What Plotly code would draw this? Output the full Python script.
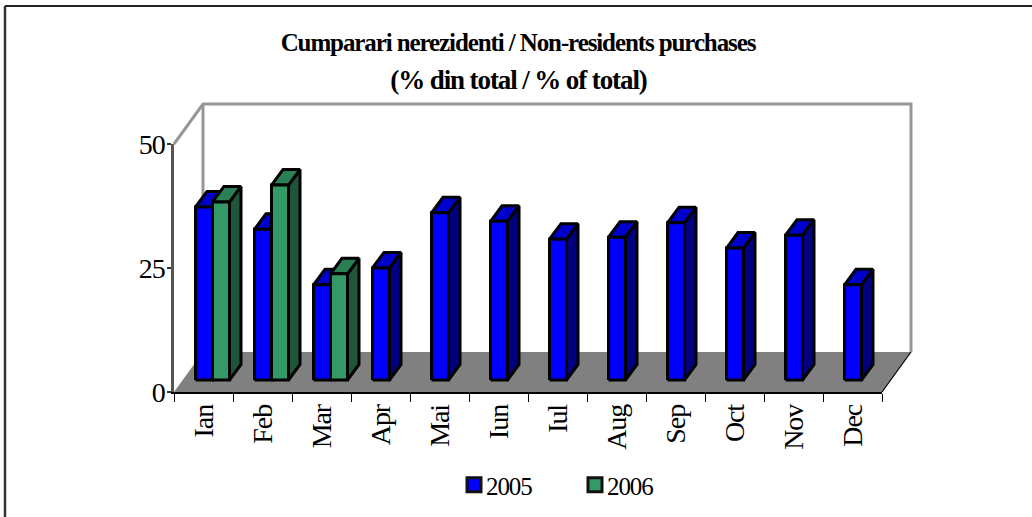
import plotly.graph_objects as go

months = ["Ian", "Feb", "Mar", "Apr", "Mai", "Iun", "Iul", "Aug", "Sep", "Oct", "Nov", "Dec"]
v2005 = [34.9, 30.4, 19.2, 22.6, 33.7, 32.0, 28.4, 28.8, 31.7, 26.6, 29.2, 19.2]
v2006 = [35.9, 39.3, 21.4]
y_ticks = [0, 25, 50]
title_1 = "Cumparari nerezidenti / Non-residents purchases"
title_2 = "(% din total / % of total)"

W, H = 1032, 517
X0, X1 = 174, 882
Y0, Y50 = 392, 144
UX = (X1 - X0) / 12
UY = (Y0 - Y50) / 50

WALL_DX, WALL_DY = 29 / UX, 40 / UY
BAR_W = 17 / UX
BAR_LEFT = 21.5 / UX
BAR_BASE = 12 / UY
BAR_DX, BAR_DY = 11.5 / UX, 15.5 / UY
PAD = 6  # pixels of slack round the scene so that edge strokes are not clipped

SER = [
    ("2005", v2005, 0, "#0000FF", "#0000CC", "#000080"),
    ("2006", v2006, 1, "#339966", "#2A7F55", "#1F5538"),
]

fig = go.Figure()


def poly(xs, ys, fill, color="black", width=3):
    fig.add_trace(go.Scatter(x=xs, y=ys, mode="lines", fill="toself", fillcolor=fill,
                             line=dict(color=color, width=width), xaxis="x2", yaxis="y2",
                             showlegend=False, hoverinfo="skip"))


# legend entries (these also carry the visible main axes)
for name, vals, slot, front, top, side in SER:
    fig.add_trace(go.Scatter(x=[None], y=[None], mode="markers", name=name,
                             marker=dict(symbol="square", size=14, color=front,
                                         line=dict(color="#111111", width=3))))

# floor and walls
poly([0, 12, 12 + WALL_DX, WALL_DX, 0], [0, 0, WALL_DY, WALL_DY, 0], "#808080", "#808080", 0)
for xs, ys, c, w in [
    ([12, 12 + WALL_DX], [0, WALL_DY], "black", 1.2),
    ([0, WALL_DX, 12 + WALL_DX, 12 + WALL_DX], [50, 50 + WALL_DY, 50 + WALL_DY, WALL_DY], "#969696", 3),
    ([WALL_DX, WALL_DX], [50 + WALL_DY, WALL_DY], "#969696", 3),
]:
    fig.add_trace(go.Scatter(x=xs, y=ys, mode="lines", line=dict(color=c, width=w), xaxis="x2", yaxis="y2",
                             showlegend=False, hoverinfo="skip"))

# bars: faces are projected from the data values
for name, vals, slot, front, top, side in SER:
    sx, sy, tx, ty, fx, fy = [], [], [], [], [], []
    for i, v in enumerate(vals):
        l = i + BAR_LEFT + slot * BAR_W
        r = l + BAR_W
        b = BAR_BASE
        t = BAR_BASE + v
        sx += [r, r + BAR_DX, r + BAR_DX, r, r, None]
        sy += [b, b + BAR_DY, t + BAR_DY, t, b, None]
        tx += [l, l + BAR_DX, r + BAR_DX, r, l, None]
        ty += [t, t + BAR_DY, t + BAR_DY, t, t, None]
        fx += [l, r, r, l, l, None]
        fy += [b, b, t, t, b, None]
    poly(sx, sy, side)
    poly(tx, ty, top)
    poly(fx, fy, front)

FONT = "Liberation Serif"
fig.update_layout(
    width=W, height=H, autosize=False,
    margin=dict(l=0, r=0, t=0, b=0, autoexpand=False),
    paper_bgcolor="white", plot_bgcolor="rgba(0,0,0,0)",
    font=dict(family=FONT, color="black", size=24),
    xaxis=dict(domain=[X0 / W, X1 / W], range=[0, 12], showgrid=False, zeroline=False,
               showline=True, linecolor="black", linewidth=1.5,
               tickmode="array", tickvals=[i + 0.5 for i in range(12)], ticktext=months,
               ticks="", tickangle=-90, tickfont=dict(size=28), ticklabelstandoff=0,
               minor=dict(tickmode="array", tickvals=list(range(13)), ticks="outside",
                          ticklen=8, tickwidth=1.2, tickcolor="black", showgrid=False)),
    yaxis=dict(domain=[(H - Y0) / H, (H - Y50) / H], range=[0, 50], showgrid=False, zeroline=False,
               showline=True, linecolor="#555555", linewidth=2.5,
               tickmode="array", tickvals=y_ticks, ticks="outside", ticklen=4, tickwidth=1.5,
               tickcolor="#333333", tickfont=dict(size=28), ticklabelstandoff=-3),
    xaxis2=dict(domain=[(X0 - PAD) / W, (X1 + 29 + PAD) / W], range=[-PAD / UX, 12 + WALL_DX + PAD / UX],
                visible=False, anchor="y2"),
    yaxis2=dict(domain=[(H - Y0 - PAD) / H, (H - Y50 + 40 + PAD) / H], range=[-PAD / UY, 50 + WALL_DY + PAD / UY],
                visible=False, anchor="x2"),
    title=dict(text="<b>" + title_1 + "</b>", x=518 / W, xanchor="center", y=1 - 42 / H, yanchor="middle",
               font=dict(size=25, family=FONT)),
    annotations=[dict(text="<b>" + title_2 + "</b>", xref="paper", yref="paper", x=518 / W, y=1 - 80 / H,
                      xanchor="center", yanchor="middle", showarrow=False, font=dict(size=27, family=FONT))],
    shapes=[
        dict(type="line", xref="paper", yref="paper", x0=5 / W, x1=1, y0=1 - 6 / H, y1=1 - 6 / H,
             line=dict(color="#222222", width=2)),
        dict(type="line", xref="paper", yref="paper", x0=5 / W, x1=5 / W, y0=0, y1=1 - 6 / H,
             line=dict(color="#333333", width=2.5)),
    ],
    legend=dict(orientation="h", x=454 / W, xanchor="left", y=1 - 485 / H, yanchor="middle",
                itemwidth=30, entrywidth=76, entrywidthmode="pixels", font=dict(size=25),
                bgcolor="rgba(0,0,0,0)", itemclick=False, itemdoubleclick=False),
)

post = """
document.body.style.margin='0';
var s=document.createElement('style');
s.textContent='svg text{letter-spacing:-1.1px} .legendtext{transform:translateX(-8px)}';
document.head.appendChild(s);
"""
fig.write_html("out.html", post_script=post, config={"displayModeBar": False})
